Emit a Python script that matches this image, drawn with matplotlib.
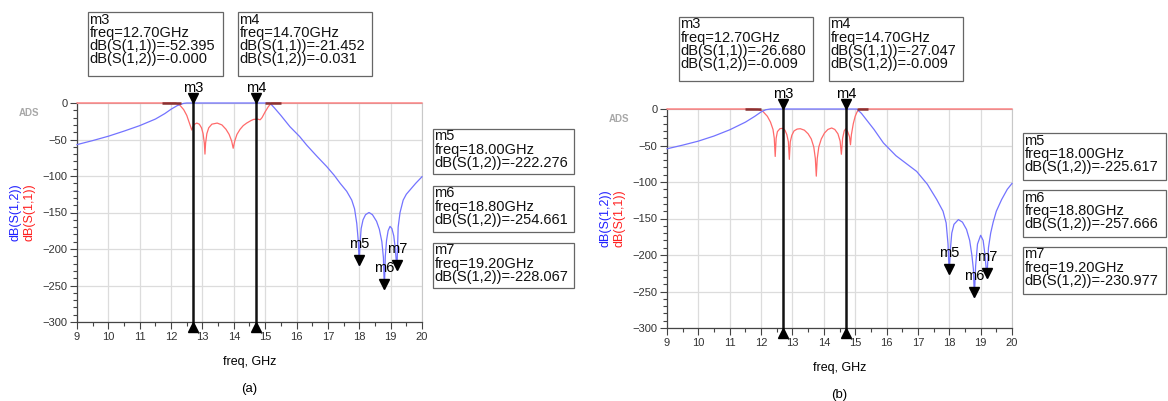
import numpy as np
import matplotlib.pyplot as plt
import matplotlib.transforms as mtransforms
from matplotlib.patches import Rectangle
from matplotlib.ticker import MultipleLocator

plt.rcParams['font.family'] = ['Liberation Sans', 'DejaVu Sans']

# ---- data ----
# panel (a)
f_s12_a = [9, 9.5, 10, 10.5, 11, 11.5, 11.8, 12.0, 12.2, 12.4, 12.5, 15.15, 15.3, 15.5, 15.79,
           16.1, 16.33, 16.65, 16.96, 17.2, 17.39, 17.6, 17.76, 17.85, 17.92, 17.97, 18.0, 18.02,
           18.06, 18.12, 18.2, 18.31, 18.42, 18.55, 18.64, 18.72, 18.77, 18.8, 18.83, 18.87, 18.92,
           18.98, 19.04, 19.1, 19.15, 19.2, 19.24, 19.3, 19.4, 19.5, 19.62, 19.8, 20]
s12_a = [-57, -51.5, -45.5, -38.5, -31, -22, -14.5, -8.5, -3.5, -0.5, 0, 0, -7, -17, -32.5,
         -46, -58, -73, -87, -99, -110, -121, -133, -145, -165, -190, -222.3, -195,
         -172, -160, -153, -150, -153, -162, -173, -190, -212, -254.7, -210, -188, -175,
         -169, -172, -182, -200, -228.1, -170, -150, -133, -125, -119, -110, -101]
f_s11_a = [9, 12.15, 12.28, 12.4, 12.5, 12.58, 12.66, 12.7, 12.75, 12.82, 12.9, 12.97, 13.02,
           13.06, 13.08, 13.1, 13.14, 13.2, 13.3, 13.47, 13.62, 13.75, 13.85, 13.93, 13.98, 14.03,
           14.1, 14.2, 14.3, 14.41, 14.55, 14.63, 14.75, 14.84, 14.9, 14.95, 15.0, 15.1, 15.2, 20]
s11_a = [0, 0, -3, -9, -17, -27, -37, -32, -29, -27.5, -29, -34, -42,
         -55, -70, -55, -42, -34, -29, -27.5, -30, -36, -43, -52, -62, -52,
         -43, -36, -31, -27.5, -24, -22.5, -22, -23, -20, -16, -12, -5, 0, 0]

# panel (b)
f_s12_b = [9, 9.5, 10, 10.5, 11, 11.5, 11.8, 12.0, 12.15, 12.3, 15.05, 15.2, 15.4, 15.6, 15.9,
           16.3, 16.96, 17.3, 17.6, 17.8, 17.9, 17.96, 18.0, 18.03, 18.08, 18.15, 18.29, 18.42,
           18.55, 18.65, 18.72, 18.77, 18.8, 18.84, 18.9, 19.0, 19.08, 19.14, 19.2, 19.25, 19.32,
           19.4, 19.5, 19.67, 19.85, 20]
s12_b = [-54.5, -49.5, -44, -37, -28.5, -18, -10, -4, -1, 0, 0, -6, -17, -28, -46.5,
         -64, -85.5, -103, -124, -140, -156, -185, -225.6, -195, -170, -158, -151.5, -155,
         -165, -180, -200, -220, -257.7, -215, -185, -173, -180, -200, -231, -190, -170,
         -155, -140, -124, -110, -102]
f_s11_b = [9, 11.7, 11.9, 12.05, 12.2, 12.3, 12.38, 12.42, 12.45, 12.48, 12.52, 12.6, 12.68,
           12.76, 12.82, 12.87, 12.9, 12.93, 12.98, 13.05, 13.15, 13.25, 13.38, 13.5, 13.6, 13.68,
           13.73, 13.76, 13.79, 13.84, 13.92, 14.02, 14.13, 14.25, 14.35, 14.45, 14.52, 14.56,
           14.6, 14.65, 14.7, 14.76, 14.82, 14.85, 14.88, 14.94, 15.0, 15.06, 15.15, 20]
s11_b = [0, 0, -0.5, -3, -10, -18, -28, -40, -65, -40, -31, -27, -26.5,
         -29, -35, -45, -69, -45, -36, -30, -27.5, -27, -29, -34, -41, -52,
         -68, -92, -68, -52, -41, -33, -28, -26, -28, -34, -44, -62,
         -40, -30, -27, -31, -38, -49, -35, -20, -10, -4, 0, 0]

dark_a = [(11.7, 12.3), (15.0, 15.5)]
dark_b = [(11.5, 12.0), (15.05, 15.4)]

m_freq = [12.7, 14.7]
m_names = ['m3', 'm4']
low_freq = [18.0, 18.8, 19.2]
low_names = ['m5', 'm6', 'm7']

top_text_a = ["m3\nfreq=12.70GHz\ndB(S(1,1))=-52.395\ndB(S(1,2))=-0.000",
              "m4\nfreq=14.70GHz\ndB(S(1,1))=-21.452\ndB(S(1,2))=-0.031"]
side_text_a = ["m5\nfreq=18.00GHz\ndB(S(1,2))=-222.276",
               "m6\nfreq=18.80GHz\ndB(S(1,2))=-254.661",
               "m7\nfreq=19.20GHz\ndB(S(1,2))=-228.067"]
low_val_a = [-222.276, -254.661, -228.067]
top_text_b = ["m3\nfreq=12.70GHz\ndB(S(1,1))=-26.680\ndB(S(1,2))=-0.009",
              "m4\nfreq=14.70GHz\ndB(S(1,1))=-27.047\ndB(S(1,2))=-0.009"]
side_text_b = ["m5\nfreq=18.00GHz\ndB(S(1,2))=-225.617",
               "m6\nfreq=18.80GHz\ndB(S(1,2))=-257.666",
               "m7\nfreq=19.20GHz\ndB(S(1,2))=-230.977"]
low_val_b = [-225.617, -257.666, -230.977]

W, H = 1168, 401
fig = plt.figure(figsize=(W / 100, H / 100), dpi=100)

BLUE = '#7373ff'
RED = '#ff6a6a'


def px_rect(l, t, r, b):
    return [l / W, 1 - b / H, (r - l) / W, (b - t) / H]


def box(x, y, w, h, txt):
    fig.add_artist(Rectangle((x / W, 1 - (y + h) / H), w / W, h / H, transform=fig.transFigure,
                             fill=False, ec='#666666', lw=0.9))
    fig.text((x + 1.5) / W, 1 - (y + 0.5) / H, txt, ha='left', va='top', fontsize=10.5,
             linespacing=0.92, color='#111111')


def panel(rect, fs12, s12, fs11, s11, dark, low_val, tag, lab_x):
    ax = fig.add_axes(rect)
    ax.set_xlim(9, 20)
    ax.set_ylim(-300, 0)
    ax.xaxis.set_major_locator(MultipleLocator(1))
    ax.xaxis.set_minor_locator(MultipleLocator(0.5))
    ax.yaxis.set_major_locator(MultipleLocator(50))
    ax.yaxis.set_minor_locator(MultipleLocator(10))
    ax.grid(True, which='major', color='#dcdcdc', lw=0.9)
    ax.set_axisbelow(True)
    ax.tick_params(which='major', length=5, width=0.8, color='#444444', labelsize=8, pad=2,
                   labelcolor='#333333')
    ax.tick_params(which='minor', length=3, width=0.8, color='#444444')
    for s in ['left', 'bottom']:
        ax.spines[s].set_color('#444444')
        ax.spines[s].set_linewidth(0.9)
    for s in ['right', 'top']:
        ax.spines[s].set_color('#c8c8c8')

    ax.plot(fs11, s11, color=RED, lw=0.9, clip_on=False, zorder=3)
    ax.plot(fs12, s12, color=BLUE, lw=0.9, clip_on=False, zorder=3)
    for a, b in dark:
        ax.plot([a, b], [0, 0], color='#8a3030', lw=1.8, solid_capstyle='butt', clip_on=False,
                zorder=3)

    # vertical markers m3, m4
    for fq, nm in zip(m_freq, m_names):
        ax.plot([fq, fq], [0, -300], color='#111111', lw=1.8, clip_on=False, zorder=5)
        ax.plot(fq, 0, marker='v', ms=7, color='black', clip_on=False, zorder=6,
                transform=mtransforms.offset_copy(ax.transData, fig, y=3.5, units='points'))
        ax.plot(fq, -300, marker='^', ms=7, color='black', clip_on=False, zorder=6,
                transform=mtransforms.offset_copy(ax.transData, fig, y=-3.5, units='points'))
        ax.annotate(nm, (fq, 0), xytext=(0, 5.5), textcoords='offset points', ha='center',
                    va='bottom', fontsize=10.5, annotation_clip=False)

    # notch markers m5, m6, m7
    for fq, v, nm in zip(low_freq, low_val, low_names):
        ax.plot(fq, v, marker='v', ms=7, color='black', clip_on=False, zorder=6,
                transform=mtransforms.offset_copy(ax.transData, fig, y=3.5, units='points'))
        ax.annotate(nm, (fq, v), xytext=(0, 10), textcoords='offset points', ha='center',
                    va='bottom', fontsize=10.5, annotation_clip=False)

    ax.text(0.5, -40 / (rect[3] * H), 'freq, GHz', transform=ax.transAxes, ha='center',
            va='center', fontsize=9)
    ax.text(0.5, -67 / (rect[3] * H), tag, transform=ax.transAxes, ha='center',
            va='center', fontsize=9.5)
    cy = rect[1] + rect[3] * 0.5
    fig.text(lab_x / W, cy, 'dB(S(1,2))', rotation=90, color='#2020ff', fontsize=9,
             ha='center', va='center')
    fig.text((lab_x + 14) / W, cy, 'dB(S(1,1))', rotation=90, color='#ff2020', fontsize=9,
             ha='center', va='center')
    fig.text((lab_x + 14) / W, rect[1] + rect[3] - 10 / H, 'ADS', color='#a8a8a8',
             fontsize=7, fontweight='bold', ha='center', va='center')
    return ax


panel(px_rect(77, 103, 422, 322), f_s12_a, s12_a, f_s11_a, s11_a, dark_a, low_val_a, '(a)', 15)
panel(px_rect(667, 109, 1012, 328), f_s12_b, s12_b, f_s11_b, s11_b, dark_b, low_val_b, '(b)', 605)

box(88, 12, 135, 64, top_text_a[0])
box(238, 12, 134, 64, top_text_a[1])
box(433, 129, 141, 45, side_text_a[0])
box(433, 186, 141, 46, side_text_a[1])
box(433, 243, 141, 45, side_text_a[2])

box(679, 17, 134, 64, top_text_b[0])
box(829, 17, 134, 64, top_text_b[1])
box(1023, 133, 143, 47, side_text_b[0])
box(1023, 190, 143, 47, side_text_b[1])
box(1023, 247, 143, 47, side_text_b[2])

fig.savefig('out.png', dpi=100)
